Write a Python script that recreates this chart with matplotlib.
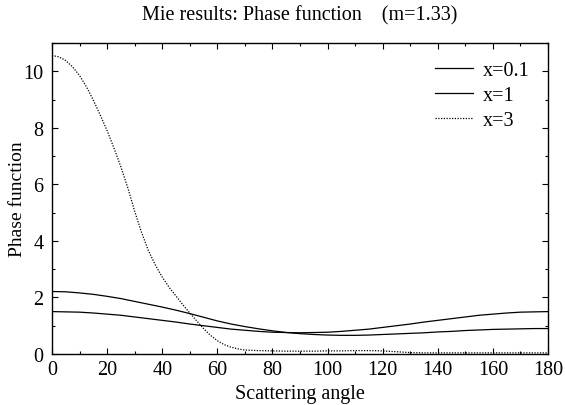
import numpy as np
import matplotlib
matplotlib.use("Agg")
import matplotlib.pyplot as plt
from matplotlib.ticker import MultipleLocator

# Scattering angles (degrees) for the two solid curves
angles = list(range(0, 181, 5))

# x = 0.1 (Rayleigh-like)
p_x01 = [1.50, 1.49, 1.48, 1.45, 1.41, 1.37, 1.31, 1.25, 1.19, 1.13,
         1.06, 1.00, 0.94, 0.88, 0.84, 0.80, 0.77, 0.76, 0.75, 0.76,
         0.77, 0.80, 0.84, 0.88, 0.94, 1.00, 1.06, 1.13, 1.19, 1.25,
         1.31, 1.37, 1.41, 1.45, 1.48, 1.49, 1.50]

# x = 1
p_x1 = [2.21, 2.20, 2.16, 2.11, 2.04, 1.96, 1.86, 1.76, 1.66, 1.55,
        1.43, 1.30, 1.17, 1.06, 0.97, 0.89, 0.82, 0.76, 0.72, 0.69,
        0.67, 0.66, 0.66, 0.67, 0.69, 0.71, 0.73, 0.75, 0.78, 0.80,
        0.83, 0.85, 0.87, 0.88, 0.89, 0.90, 0.90]

# x = 3 (finer steps over the forward peak)
angles_x3 = [0, 2.5, 5, 7.5, 10, 12.5, 15, 17.5, 20, 22.5, 25, 27.5, 30,
             32.5, 35, 37.5, 40, 42.5, 45, 47.5, 50, 52.5, 55, 57.5, 60,
             62.5, 65, 67.5, 70, 75, 80, 85, 90, 95, 100, 105, 110, 115,
             120, 125, 130, 135, 140, 145, 150, 155, 160, 165, 170, 175, 180]
p_x3 = [10.56, 10.51, 10.38, 10.15, 9.85, 9.45, 8.98, 8.45, 7.90, 7.28,
        6.62, 5.88, 5.05, 4.30, 3.65, 3.15, 2.72, 2.36, 2.05, 1.74,
        1.45, 1.17, 0.90, 0.66, 0.47, 0.33, 0.24, 0.18, 0.14, 0.12,
        0.11, 0.10, 0.10, 0.10, 0.11, 0.11, 0.12, 0.12, 0.11, 0.08,
        0.05, 0.04, 0.04, 0.04, 0.04, 0.04, 0.04, 0.04, 0.04, 0.04, 0.04]

labels = ["x=0.1", "x=1", "x=3"]

plt.rcParams["font.family"] = ["Liberation Serif", "DejaVu Serif"]

fig = plt.figure(figsize=(5.65, 4.06), dpi=100)
ax = fig.add_axes([52 / 565, 1 - 355 / 406, 496 / 565, 311 / 406])

ax.plot(angles, p_x01, color="black", lw=0.9, label=labels[0])
ax.plot(angles, p_x1, color="black", lw=0.9, label=labels[1])
ax.plot(angles_x3, p_x3, color="black", lw=0.9, linestyle=(0, (1, 1.2)), label=labels[2])

ax.set_xlim(0, 180)
ax.set_ylim(0, 11)
ax.xaxis.set_major_locator(MultipleLocator(20))
ax.xaxis.set_minor_locator(MultipleLocator(10))
ax.yaxis.set_major_locator(MultipleLocator(2))
ax.yaxis.set_minor_locator(MultipleLocator(1))
ax.tick_params(which="both", direction="in", top=True, right=True, labelsize=14.5, width=0.8)
ax.tick_params(which="major", length=4)
ax.tick_params(which="minor", length=2.5)
ax.tick_params(axis="x", which="major", pad=4)
ax.tick_params(axis="y", which="major", pad=6)
for s in ax.spines.values():
    s.set_linewidth(1.0)

ax.set_xlabel("Scattering angle", fontsize=14.5, labelpad=4)
ax.set_ylabel("Phase function", fontsize=14, labelpad=-2)
ax.set_title("Mie results: Phase function    (m=1.33)", fontsize=14.5, pad=17)

ax.legend(loc="upper right", frameon=False, fontsize=14.5, handlelength=1.9,
          handletextpad=0.5, labelspacing=0.3, borderaxespad=0.5)

fig.savefig("out.png", dpi=100)
